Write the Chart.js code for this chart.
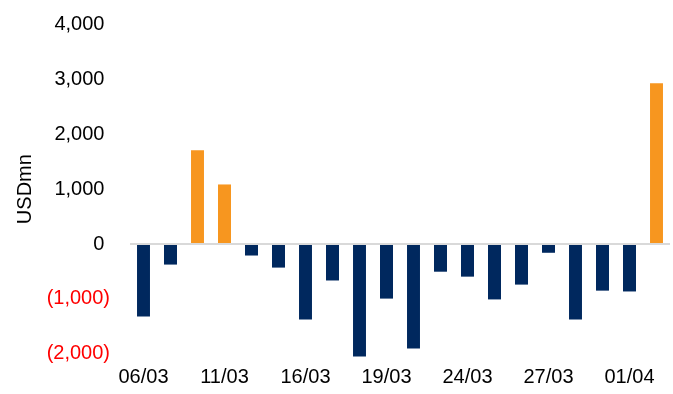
<!DOCTYPE html>
<html>
<head>
<meta charset="utf-8">
<script src="https://cdn.jsdelivr.net/npm/chart.js@4/dist/chart.umd.min.js"></script>
<style>
  html, body { margin: 0; padding: 0; background: #ffffff; }
  #wrap { width: 673px; height: 394px; position: relative; }
</style>
</head>
<body>
<div id="wrap"><canvas id="c"></canvas></div>
<script>
// Daily net flows, USD mn
const dates = ['06/03', '09/03', '10/03', '11/03', '12/03', '13/03', '16/03', '17/03', '18/03', '19/03',
               '20/03', '23/03', '24/03', '25/03', '26/03', '27/03', '30/03', '31/03', '01/04', '02/04'];
const flows = [-1320, -375, 1710, 1085, -210, -430, -1375, -665, -2050, -995,
               -1905, -505, -595, -1010, -740, -160, -1375, -850, -865, 2930];
const yTicks = [-2000, -1000, 0, 1000, 2000, 3000, 4000];
const labelEvery = 3;

const NAVY = '#00285E';
const ORANGE = '#F7961F';
const FONT = 'Liberation Sans, Arial, sans-serif';

function fmt(v) {
  const s = Math.abs(v).toLocaleString('en-US');
  return v < 0 ? '(' + s + ')' : s + ' ';
}

new Chart(document.getElementById('c'), {
  type: 'bar',
  data: {
    labels: dates,
    datasets: [{
      data: flows,
      backgroundColor: flows.map(v => v >= 0 ? ORANGE : NAVY),
      borderWidth: 0,
      categoryPercentage: 1,
      barPercentage: 0.48,
      clip: false
    }]
  },
  options: {
    responsive: true,
    maintainAspectRatio: false,
    animation: false,
    layout: { padding: { top: 24.5, right: 3, bottom: 0, left: 0 } },
    plugins: { legend: { display: false }, tooltip: { enabled: false } },
    scales: {
      x: {
        grid: { display: false, drawTicks: false },
        border: { display: false },
        ticks: {
          autoSkip: false,
          maxRotation: 0,
          padding: 12,
          color: '#000000',
          font: { family: FONT, size: 20 },
          callback: (v, i) => (i % labelEvery === 0 ? dates[i] : '')
        },
        afterFit: s => { s.height = 40.25; s.paddingLeft = 0; s.paddingRight = 0; }
      },
      y: {
        min: -2000,
        max: 4000,
        afterBuildTicks: s => { s.ticks = yTicks.map(v => ({ value: v })); },
        grid: {
          drawTicks: false,
          color: c => (c.tick && c.tick.value === 0 ? '#D9D9D9' : 'rgba(0,0,0,0)'),
          lineWidth: 2
        },
        border: { display: false },
        ticks: {
          padding: 20,
          color: c => (c.tick && c.tick.value < 0 ? '#FF0000' : '#000000'),
          font: { family: FONT, size: 20 },
          callback: v => fmt(v)
        },
        title: {
          display: true,
          text: 'USDmn',
          color: '#000000',
          font: { family: FONT, size: 20 },
          padding: { top: 13, bottom: 0 }
        },
        afterFit: s => { s.width = 130; s.paddingTop = 0; s.paddingBottom = 0; }
      }
    }
  }
});
</script>
</body>
</html>
